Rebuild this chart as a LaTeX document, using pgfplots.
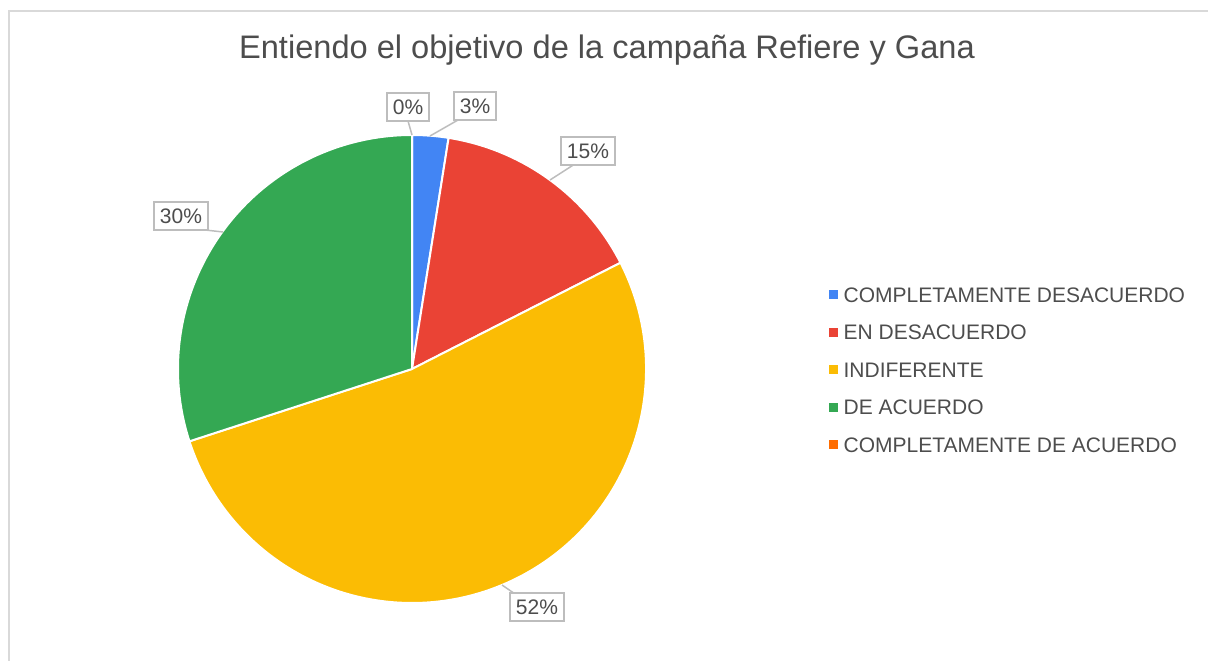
\documentclass[border=0pt]{standalone}
\usepackage{pgfplots}
\pgfplotsset{compat=1.18}
\usepackage{pgfplotstable}
\usepackage{fontspec}
\setmainfont{Liberation Sans}
\definecolor{c0}{HTML}{4285F4}
\definecolor{c1}{HTML}{EA4335}
\definecolor{c2}{HTML}{FBBC04}
\definecolor{c3}{HTML}{34A853}
\definecolor{c4}{HTML}{FF6D01}
\definecolor{txt}{HTML}{4D4D4D}
\definecolor{frame}{HTML}{D9D9D9}
\definecolor{boxc}{HTML}{BDBDBD}

% counts per category (order: clockwise from 12 o'clock)
\pgfplotstableread{
idx value
0 1
1 6
2 21
3 12
4 0
}\piedata

\def\total{0}
\pgfplotsforeachungrouped \i in {0,...,4}{%
  \pgfplotstablegetelem{\i}{value}\of\piedata
  \pgfmathsetmacro\total{\total+\pgfplotsretval}%
}
\def\cum{0}
\pgfplotsforeachungrouped \i in {0,...,4}{%
  \pgfplotstablegetelem{\i}{value}\of\piedata
  \pgfmathsetmacro\sa{90-360*\cum/\total}%
  \pgfmathsetmacro\cum{\cum+\pgfplotsretval}%
  \pgfmathsetmacro\ea{90-360*\cum/\total}%
  \expandafter\edef\csname sa\i\endcsname{\sa}%
  \expandafter\edef\csname ea\i\endcsname{\ea}%
}

\begin{document}
\begin{tikzpicture}
\begin{axis}[
  scale only axis, width=1208pt, height=661pt,
  xmin=0, xmax=1208, ymin=0, ymax=661,
  hide axis, clip=false,
  legend image code/.code={\fill[#1] (0pt,-4pt) rectangle (8pt,4pt);},
  legend cell align=left,
  legend style={draw=none, fill=none, at={(axis cs:826,661-285)}, anchor=north west,
    font=\fontsize{21}{21}\selectfont, text=txt, row sep=22.5pt,
    nodes={inner sep=0pt, text height=15pt, text depth=0pt}, column sep=6pt},
]
\coordinate (SW) at (axis cs:0,0);
\coordinate (NE) at (axis cs:1208,661);
% frame
\draw[frame, line width=2pt] (axis cs:9,0) -- (axis cs:9,650) -- (axis cs:1208,650);

% slices
\pgfplotsinvokeforeach{0,...,3}{
  \filldraw[fill=c#1, draw=white, line width=2pt, line join=round]
    (axis cs:412,292) -- ++(\csname sa#1\endcsname:234pt)
    arc[start angle=\csname sa#1\endcsname, end angle=\csname ea#1\endcsname, radius=234pt] -- cycle;
}

% legend entries
\addlegendimage{c0}\addlegendentry{COMPLETAMENTE DESACUERDO}
\addlegendimage{c1}\addlegendentry{EN DESACUERDO}
\addlegendimage{c2}\addlegendentry{INDIFERENTE}
\addlegendimage{c3}\addlegendentry{DE ACUERDO}
\addlegendimage{c4}\addlegendentry{COMPLETAMENTE DE ACUERDO}

% title
\node[anchor=base, font=\fontsize{32.6}{33}\selectfont, text=txt] at (axis cs:607,661-59)
  {Entiendo el objetivo de la campaña Refiere y Gana};

% label stems
\draw[boxc, line width=1.5pt] (axis cs:408,661-121) -- (axis cs:412,661-135);
\draw[boxc, line width=1.5pt] (axis cs:458,661-120) -- (axis cs:430,661-136);
\draw[boxc, line width=1.5pt] (axis cs:578,661-162) -- (axis cs:550,661-180);
\draw[boxc, line width=1.5pt] (axis cs:205,661-230) -- (axis cs:223,661-232);
\draw[boxc, line width=1.5pt] (axis cs:518,661-596) -- (axis cs:502,661-585);

% data labels
\tikzset{lbl/.style={draw=boxc, line width=1.5pt, fill=white, text=txt,
  font=\fontsize{21}{21}\selectfont, inner xsep=6pt, inner ysep=3pt,
  minimum height=28pt, text height=15pt, text depth=0pt}}
\node[lbl] at (axis cs:408,661-107) {0\%};
\node[lbl] at (axis cs:475,661-106) {3\%};
\node[lbl] at (axis cs:588,661-151) {15\%};
\node[lbl] at (axis cs:181,661-216) {30\%};
\node[lbl] at (axis cs:537,661-607) {52\%};
\end{axis}
\pgfresetboundingbox
\path (SW) rectangle (NE);
\end{tikzpicture}
\end{document}
